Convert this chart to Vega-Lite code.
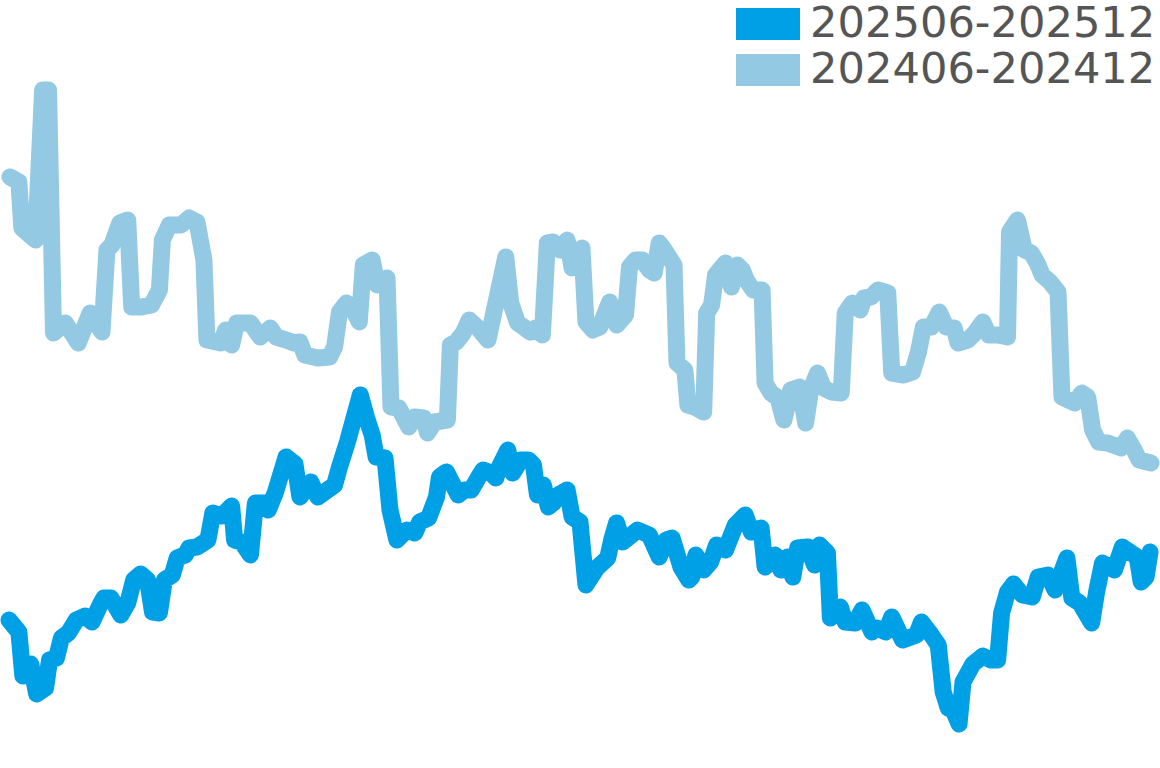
{
  "$schema": "https://vega.github.io/schema/vega-lite/v6.json",
  "width": 1160,
  "height": 768,
  "autosize": {"type": "fit", "contains": "padding"},
  "padding": 0,
  "background": "white",
  "datasets": {
    "cur": [
      {"t":3,"v":148},{"t":13,"v":136},{"t":17,"v":92},{"t":25,"v":104},{"t":31,"v":74},{"t":40,"v":80},{"t":44,"v":108},{"t":51,"v":110},{"t":56,"v":130},{"t":63,"v":135},{"t":71,"v":148},{"t":80,"v":152},{"t":87,"v":146},{"t":95,"v":163},{"t":99,"v":170},{"t":106,"v":170},{"t":116,"v":153},{"t":123,"v":165},{"t":129,"v":188},{"t":136,"v":194},{"t":143,"v":188},{"t":148,"v":156},{"t":155,"v":155},{"t":160,"v":188},{"t":168,"v":193},{"t":173,"v":210},{"t":181,"v":213},{"t":185,"v":220},{"t":193,"v":221},{"t":204,"v":228},{"t":209,"v":255},{"t":218,"v":252},{"t":228,"v":262},{"t":231,"v":228},{"t":238,"v":226},{"t":247,"v":213},{"t":252,"v":265},{"t":262,"v":265},{"t":265,"v":258},{"t":272,"v":275},{"t":283,"v":311},{"t":292,"v":304},{"t":297,"v":271},{"t":308,"v":286},{"t":315,"v":271},{"t":332,"v":283},{"t":337,"v":301},{"t":345,"v":326},{"t":358,"v":373},{"t":365,"v":348},{"t":370,"v":333},{"t":374,"v":311},{"t":383,"v":310},{"t":388,"v":258},{"t":395,"v":228},{"t":405,"v":238},{"t":413,"v":235},{"t":418,"v":246},{"t":427,"v":250},{"t":435,"v":271},{"t":438,"v":291},{"t":445,"v":296},{"t":457,"v":273},{"t":463,"v":278},{"t":470,"v":278},{"t":477,"v":290},{"t":482,"v":298},{"t":490,"v":295},{"t":495,"v":290},{"t":498,"v":300},{"t":507,"v":318},{"t":512,"v":295},{"t":520,"v":308},{"t":528,"v":308},{"t":533,"v":303},{"t":537,"v":273},{"t":543,"v":283},{"t":548,"v":261},{"t":553,"v":265},{"t":558,"v":273},{"t":567,"v":278},{"t":572,"v":251},{"t":580,"v":246},{"t":586,"v":183},{"t":597,"v":200},{"t":608,"v":210},{"t":612,"v":228},{"t":617,"v":245},{"t":623,"v":226},{"t":632,"v":233},{"t":638,"v":238},{"t":650,"v":233},{"t":660,"v":211},{"t":667,"v":228},{"t":673,"v":230},{"t":682,"v":201},{"t":690,"v":188},{"t":693,"v":191},{"t":697,"v":213},{"t":705,"v":198},{"t":712,"v":206},{"t":718,"v":223},{"t":727,"v":218},{"t":737,"v":243},{"t":747,"v":253},{"t":753,"v":236},{"t":763,"v":240},{"t":767,"v":201},{"t":777,"v":213},{"t":783,"v":198},{"t":790,"v":211},{"t":795,"v":191},{"t":800,"v":220},{"t":810,"v":221},{"t":817,"v":203},{"t":822,"v":223},{"t":830,"v":215},{"t":833,"v":150},{"t":843,"v":161},{"t":848,"v":146},{"t":858,"v":145},{"t":865,"v":158},{"t":875,"v":136},{"t":880,"v":140},{"t":889,"v":136},{"t":895,"v":151},{"t":906,"v":128},{"t":920,"v":133},{"t":925,"v":146},{"t":935,"v":133},{"t":942,"v":123},{"t":947,"v":76},{"t":952,"v":60},{"t":957,"v":58},{"t":963,"v":44},{"t":967,"v":86},{"t":977,"v":104},{"t":987,"v":112},{"t":995,"v":108},{"t":1002,"v":108},{"t":1006,"v":155},{"t":1012,"v":176},{"t":1018,"v":184},{"t":1027,"v":173},{"t":1037,"v":171},{"t":1043,"v":191},{"t":1053,"v":193},{"t":1060,"v":178},{"t":1072,"v":210},{"t":1077,"v":170},{"t":1085,"v":165},{"t":1097,"v":145},{"t":1102,"v":176},{"t":1108,"v":205},{"t":1120,"v":198},{"t":1128,"v":221},{"t":1143,"v":211},{"t":1147,"v":186},{"t":1152,"v":191},{"t":1156,"v":216}
    ],
    "prev": [
      {"t":4,"v":591},{"t":13,"v":586},{"t":16,"v":540},{"t":30,"v":528},{"t":37,"v":678},{"t":43,"v":678},{"t":48,"v":435},{"t":60,"v":445},{"t":73,"v":425},{"t":85,"v":455},{"t":97,"v":436},{"t":102,"v":518},{"t":107,"v":523},{"t":115,"v":545},{"t":123,"v":548},{"t":127,"v":461},{"t":137,"v":461},{"t":147,"v":463},{"t":155,"v":478},{"t":158,"v":528},{"t":165,"v":543},{"t":177,"v":543},{"t":185,"v":550},{"t":193,"v":546},{"t":200,"v":508},{"t":203,"v":428},{"t":217,"v":425},{"t":222,"v":438},{"t":228,"v":423},{"t":233,"v":445},{"t":247,"v":445},{"t":257,"v":431},{"t":267,"v":440},{"t":273,"v":431},{"t":283,"v":428},{"t":291,"v":425},{"t":297,"v":426},{"t":302,"v":413},{"t":315,"v":410},{"t":327,"v":411},{"t":332,"v":421},{"t":337,"v":456},{"t":344,"v":465},{"t":350,"v":460},{"t":357,"v":446},{"t":361,"v":503},{"t":370,"v":508},{"t":375,"v":483},{"t":385,"v":490},{"t":389,"v":361},{"t":397,"v":360},{"t":407,"v":341},{"t":413,"v":351},{"t":422,"v":350},{"t":426,"v":335},{"t":433,"v":346},{"t":446,"v":348},{"t":449,"v":423},{"t":455,"v":426},{"t":462,"v":435},{"t":468,"v":448},{"t":477,"v":440},{"t":487,"v":428},{"t":492,"v":451},{"t":505,"v":511},{"t":510,"v":465},{"t":517,"v":445},{"t":523,"v":441},{"t":530,"v":436},{"t":535,"v":440},{"t":542,"v":433},{"t":547,"v":525},{"t":553,"v":526},{"t":560,"v":518},{"t":567,"v":528},{"t":572,"v":500},{"t":582,"v":520},{"t":586,"v":446},{"t":593,"v":438},{"t":600,"v":441},{"t":610,"v":466},{"t":617,"v":443},{"t":626,"v":453},{"t":630,"v":501},{"t":636,"v":508},{"t":643,"v":508},{"t":650,"v":498},{"t":655,"v":495},{"t":660,"v":525},{"t":664,"v":520},{"t":675,"v":503},{"t":678,"v":405},{"t":686,"v":398},{"t":689,"v":363},{"t":696,"v":361},{"t":705,"v":356},{"t":708,"v":455},{"t":713,"v":463},{"t":717,"v":493},{"t":727,"v":505},{"t":733,"v":481},{"t":739,"v":503},{"t":744,"v":498},{"t":748,"v":488},{"t":755,"v":478},{"t":764,"v":478},{"t":767,"v":385},{"t":773,"v":375},{"t":780,"v":370},{"t":786,"v":348},{"t":793,"v":378},{"t":802,"v":381},{"t":808,"v":345},{"t":813,"v":378},{"t":820,"v":395},{"t":826,"v":380},{"t":834,"v":376},{"t":844,"v":375},{"t":848,"v":455},{"t":855,"v":465},{"t":863,"v":458},{"t":867,"v":470},{"t":874,"v":471},{"t":881,"v":478},{"t":891,"v":475},{"t":895,"v":395},{"t":907,"v":393},{"t":916,"v":396},{"t":922,"v":416},{"t":927,"v":441},{"t":935,"v":441},{"t":943,"v":456},{"t":950,"v":441},{"t":958,"v":440},{"t":962,"v":425},{"t":972,"v":428},{"t":979,"v":435},{"t":987,"v":446},{"t":993,"v":433},{"t":1002,"v":433},{"t":1012,"v":431},{"t":1014,"v":536},{"t":1022,"v":548},{"t":1029,"v":518},{"t":1036,"v":515},{"t":1042,"v":505},{"t":1047,"v":493},{"t":1055,"v":486},{"t":1063,"v":476},{"t":1067,"v":371},{"t":1080,"v":365},{"t":1087,"v":375},{"t":1093,"v":371},{"t":1098,"v":338},{"t":1104,"v":326},{"t":1113,"v":325},{"t":1127,"v":320},{"t":1133,"v":330},{"t":1140,"v":318},{"t":1145,"v":308},{"t":1157,"v":305}
    ]
  },
  "layer": [
    {
      "data": {"name": "prev"},
      "mark": {"type": "line", "strokeCap": "round", "strokeJoin": "round"},
      "encoding": {
        "x": {"field": "t", "type": "quantitative", "scale": {"domain": [0, 1160], "nice": false, "zero": false}, "axis": null},
        "y": {"field": "v", "type": "quantitative", "scale": {"domain": [0, 768], "nice": false}, "axis": null},
        "color": {"datum": "202406-202412", "type": "nominal"},
        "strokeWidth": {"value": 17}
      }
    },
    {
      "data": {"name": "cur"},
      "mark": {"type": "line", "strokeCap": "round", "strokeJoin": "round"},
      "encoding": {
        "x": {"field": "t", "type": "quantitative"},
        "y": {"field": "v", "type": "quantitative"},
        "strokeWidth": {"value": 17},
        "color": {
          "datum": "202506-202512",
          "type": "nominal",
          "scale": {"domain": ["202506-202512", "202406-202412"], "range": ["#00a0e6", "#93c9e3"]},
          "legend": {
            "title": null,
            "orient": "none",
            "legendX": 730,
            "legendY": -8,
            "padding": 0,
            "symbolType": "M-1,-0.5H1V0.5H-1Z",
            "symbolSize": 4096,
            "symbolStrokeWidth": 0,
            "labelFont": "DejaVu Sans",
            "labelFontSize": 43.2,
            "labelColor": "#555555",
            "labelOffset": 10,
            "labelLimit": 0,
            "encode": {
              "symbols": {"update": {
                "fill": {"scale": "color", "field": "value"},
                "opacity": {"value": 1},
                "strokeWidth": {"value": 0},
                "shape": {"signal": "datum.index ? 'M-1,-0.8125H1V0.1875H-1Z' : 'M-1,-0.5H1V0.5H-1Z'"}
              }},
              "labels": {"update": {"dy": {"signal": "datum.index ? -10 : 0"}}}
            }
          }
        }
      }
    }
  ],
  "config": {"view": {"stroke": null}}
}
